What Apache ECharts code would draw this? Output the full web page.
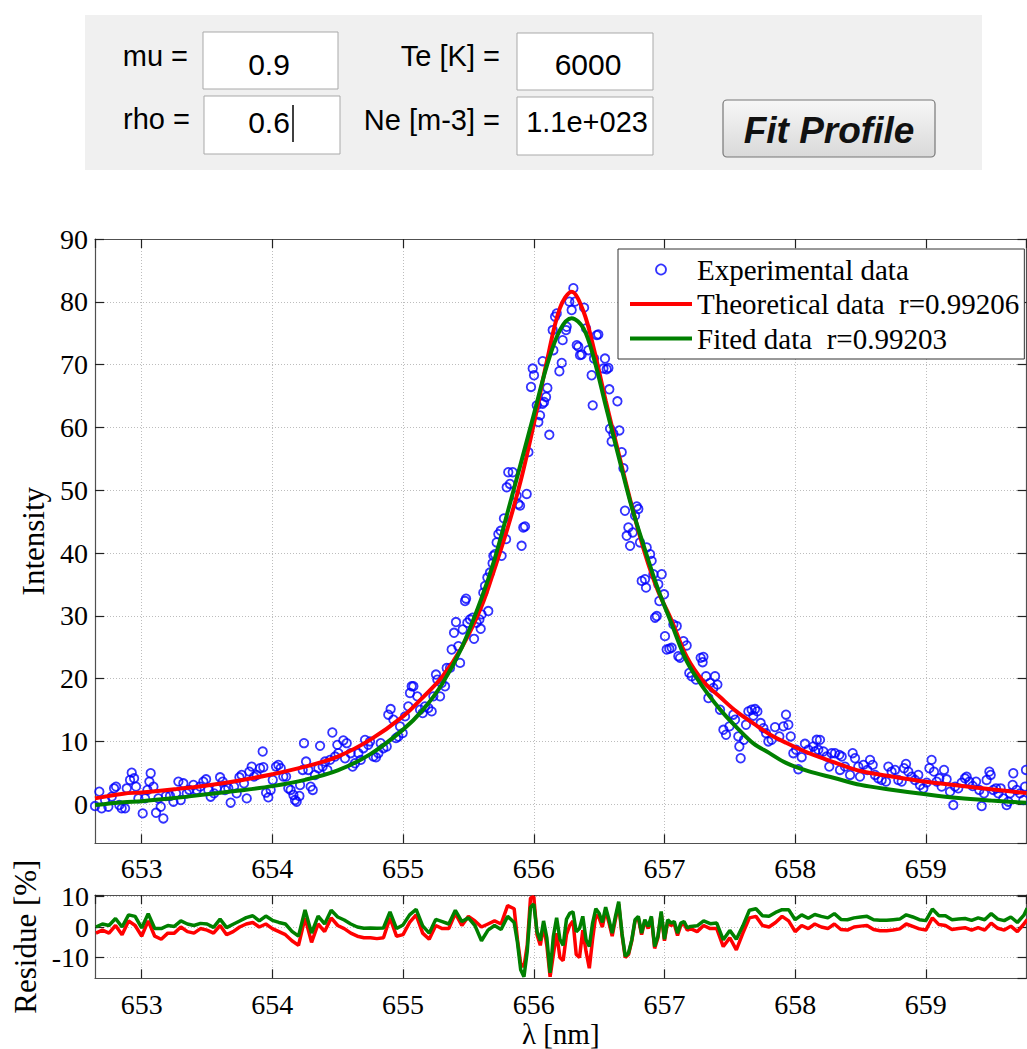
<!DOCTYPE html>
<html>
<head>
<meta charset="utf-8">
<script src="https://cdn.jsdelivr.net/npm/echarts@6/dist/echarts.min.js"></script>
<style>
  html, body { margin: 0; padding: 0; background: #fff; }
  #chart { width: 1027px; height: 1049px; }
</style>
</head>
<body>
<div id="chart"></div>
<script>
// experimental points [lambda nm, intensity]
const expPoints = [
  [652.643,-0.27],[652.676,2.02],[652.694,-0.64],[652.720,0.69],[652.745,-0.38],[652.771,1.22],[652.789,2.55],[652.804,2.82],
  [652.829,-0.11],[652.847,-0.64],[652.873,-0.64],[652.886,2.55],[652.911,3.88],[652.924,5.05],[652.942,4.15],[652.957,2.82],
  [652.975,0.95],[653.008,-1.44],[653.026,0.95],[653.044,2.29],[653.059,3.62],[653.069,4.95],[653.090,2.82],[653.110,-1.34],
  [653.128,0.95],[653.146,-0.38],[653.166,-2.24],[653.186,1.33],[653.217,1.33],[653.243,0.42],[653.263,1.75],[653.281,3.62],
  [653.299,0.69],[653.319,3.35],[653.345,1.75],[653.365,2.29],[653.396,3.08],[653.421,2.29],[653.447,2.82],[653.472,3.62],
  [653.493,3.99],[653.510,2.29],[653.528,1.22],[653.554,1.75],[653.574,2.55],[653.600,4.31],[653.620,3.62],[653.638,2.29],
  [653.663,2.55],[653.681,0.26],[653.707,2.82],[653.727,1.75],[653.748,4.31],[653.765,4.68],[653.783,3.35],[653.804,0.95],
  [653.824,5.21],[653.842,6.01],[653.860,4.42],[653.880,4.68],[653.906,5.75],[653.926,8.41],[653.931,5.91],[653.952,1.86],
  [653.969,1.11],[653.987,2.29],[654.003,3.88],[654.028,6.01],[654.046,6.28],[654.064,5.75],[654.084,4.42],[654.105,4.42],
  [654.122,2.55],[654.140,2.29],[654.161,1.49],[654.173,0.69],[654.186,0.42],[654.207,1.33],[654.212,3.08],[654.232,5.48],
  [654.242,9.74],[654.258,6.81],[654.275,5.48],[654.293,2.82],[654.309,2.29],[654.326,4.68],[654.352,5.75],[654.365,9.31],
  [654.385,6.01],[654.403,6.81],[654.421,5.48],[654.441,7.08],[654.459,11.44],[654.480,7.61],[654.497,9.47],[654.505,8.14],
  [654.543,10.17],[654.556,7.34],[654.569,9.74],[654.599,8.14],[654.614,6.01],[654.632,6.54],[654.658,8.14],[654.676,7.08],
  [654.696,8.94],[654.709,10.27],[654.734,9.47],[654.747,10.01],[654.773,7.61],[654.793,7.50],[654.811,8.14],[654.829,9.74],
  [654.849,8.94],[654.875,9.21],[654.887,14.27],[654.905,15.17],[654.926,13.47],[654.946,10.54],[654.964,10.80],[654.977,12.40],
  [654.997,11.34],[655.015,14.00],[655.040,15.60],[655.053,17.73],[655.066,18.79],[655.079,18.79],[655.109,17.19],[655.130,15.06],
  [655.150,14.53],[655.168,15.60],[655.193,15.33],[655.219,14.80],[655.232,17.19],[655.252,20.66],[655.262,19.86],[655.283,17.19],
  [655.295,19.32],[655.321,18.79],[655.334,21.72],[655.359,21.72],[655.372,24.65],[655.390,27.31],[655.405,29.02],[655.423,25.18],
  [655.436,22.52],[655.456,27.84],[655.474,32.37],[655.482,32.74],[655.492,28.91],[655.512,29.44],[655.533,29.71],[655.543,26.35],
  [655.563,28.91],[655.584,29.44],[655.594,27.95],[655.601,30.24],[655.614,33.70],[655.627,34.77],[655.645,36.10],[655.652,30.77],
  [655.665,36.90],[655.685,38.39],[655.691,39.56],[655.703,39.82],[655.716,41.69],[655.729,43.02],[655.747,43.55],[655.754,39.56],
  [655.772,45.52],[655.788,42.22],[655.793,50.47],[655.805,52.87],[655.818,51.01],[655.839,52.87],[655.869,49.14],[655.882,47.81],
  [655.895,47.55],[655.907,41.16],[655.920,44.08],[655.933,44.24],[655.946,49.41],[655.959,56.07],
  [655.979,66.45],[655.992,69.38],[656.002,68.31],[656.023,63.52],[656.035,60.86],[656.048,61.92],[656.068,63.78],[656.079,64.05],
  [656.094,64.85],[656.104,66.29],[656.119,58.83],[656.068,70.55],[656.150,72.30],[656.145,75.50],[656.163,77.63],[656.176,78.16],
  [656.196,68.95],[656.214,70.28],[656.221,73.90],[656.247,75.50],[656.252,76.03],[656.272,80.03],[656.290,78.69],[656.303,82.16],
  [656.316,80.03],[656.329,73.10],[656.341,72.84],[656.354,71.51],[656.367,71.61],[656.385,79.07],[656.400,75.77],[656.418,72.30],
  [656.443,68.31],[656.451,63.52],[656.461,70.97],[656.482,74.70],[656.494,74.81],[656.533,69.38],[656.545,70.97],[656.558,69.27],
  [656.571,69.48],[656.578,66.07],[656.584,59.79],[656.596,57.77],[656.609,58.99],[656.640,64.16],[656.655,59.52],[656.673,56.06],
  [656.686,53.51],[656.698,46.74],[656.711,42.75],[656.724,44.08],[656.737,41.15],[656.757,43.28],[656.775,45.95],[656.788,47.44],
  [656.800,47.01],[656.813,41.69],[656.864,40.89],
  [656.890,39.83],[656.902,38.76],[656.915,36.63],[656.979,36.63],[656.826,35.57],[656.851,35.84],[656.859,34.50],[656.953,35.04],
  [656.961,32.37],[656.997,33.44],[656.928,29.71],[656.941,29.98],[657.004,26.78],[657.017,24.65],[657.037,24.76],[657.055,24.92],
  [657.068,28.65],[657.094,28.38],[657.106,23.59],[657.119,23.32],[657.145,25.98],[657.170,25.29],[657.190,20.93],[657.208,20.39],
  [657.241,19.86],[657.277,23.32],[657.292,22.63],[657.298,23.48],[657.318,20.39],[657.336,16.93],[657.349,19.33],[657.387,20.39],
  [657.405,19.06],[657.374,18.53],[657.425,15.07],[657.451,11.87],[657.471,11.08],[657.497,12.41],[657.527,14.27],[657.540,13.47],
  [657.565,10.81],[657.573,9.21],[657.583,7.34],[657.609,10.28],[657.624,12.67],[657.642,14.80],[657.667,15.07],[657.693,15.17],
  [657.711,14.80],[657.680,14.11],[657.736,12.94],[657.757,12.14],[657.777,11.34],[657.795,10.01],[657.820,10.28],[657.846,12.30],
  [657.879,10.81],[657.910,12.41],[657.930,14.27],[657.948,12.67],[657.966,10.81],[657.986,8.14],[658.007,8.68],[658.024,5.59],
  [658.050,7.51],[658.075,9.64],[658.101,8.68],[658.139,9.21],[658.165,10.28],
  [658.190,10.27],[658.177,8.68],[658.152,8.41],[658.216,8.41],[658.241,7.61],[658.261,6.01],[658.279,8.14],[658.305,8.14],
  [658.338,7.88],[658.356,7.61],[658.343,5.48],[658.381,6.01],[658.420,4.68],[658.440,8.14],[658.458,7.34],[658.483,6.01],
  [658.496,4.42],[658.522,6.28],[658.552,5.48],[658.573,7.08],[658.593,6.28],[658.611,4.68],[658.636,4.15],[658.662,3.88],
  [658.695,3.62],[658.713,6.01],[658.738,5.21],[658.764,5.48],[658.789,3.88],[658.815,3.62],[658.833,5.75],[658.848,6.44],
  [658.866,5.21],[658.891,4.42],[658.917,3.88],[658.942,4.68],[658.955,3.08],[658.981,2.55],[659.006,3.46],[659.027,5.75],
  [659.044,7.08],[659.062,5.21],[659.083,3.62],[659.103,4.15],[659.121,2.82],[659.139,5.48],[659.159,3.99],[659.185,2.02],
  [659.210,-0.11],[659.223,2.82],[659.248,2.55],[659.274,3.46],[659.299,4.15],[659.312,4.42],[659.333,3.62],[659.358,2.92],
  [659.384,3.62],[659.409,2.29],[659.427,-0.27],[659.445,1.75],[659.465,3.88],[659.486,5.21],[659.496,4.68],[659.516,2.29],
  [659.537,2.55],[659.554,1.75],[659.572,2.55],[659.593,0.95],[659.618,-0.11],[659.631,0.42],[659.644,1.75],[659.669,4.95],
  [659.664,3.08],[659.695,2.29],[659.720,1.75],[659.746,0.69],[659.766,5.48],[659.759,2.82]
];

// model curves
const curveLambda = [
  652.643, 652.86, 653.0, 653.25, 653.5, 653.75, 654.0, 654.25, 654.5, 654.75,
  655.0, 655.15, 655.3, 655.45, 655.6, 655.7, 655.8, 655.9, 656.0, 656.1,
  656.2, 656.29, 656.38, 656.46, 656.55, 656.65, 656.75, 656.85, 656.95, 657.05,
  657.17, 657.3, 657.43, 657.55, 657.68, 657.8, 657.93, 658.1, 658.3, 658.5,
  658.75, 659.0, 659.25, 659.5, 659.77
];
const theoCurve = [
  0.95, 1.7, 1.9, 2.4, 3.0, 3.8, 4.8, 6.0, 7.6, 10.3,
  14.0, 17.0, 20.3, 25.0, 31.5, 37.5, 44.0, 51.5, 60.5, 70.5,
  79.0, 81.6, 78.5, 72.5, 64.3, 55.8, 47.5, 40.0, 34.0, 29.5,
  23.5, 19.5, 17.0, 14.8, 12.9, 11.2, 9.8, 8.2, 6.7, 5.3,
  4.4, 3.6, 3.0, 2.4, 1.8
];
const fitCurve = [
  -0.1, 0.35, 0.5, 1.0, 1.6, 2.2, 2.9, 3.9, 5.4, 8.0,
  11.9, 15.0, 19.2, 25.0, 32.8, 39.0, 46.5, 54.2, 62.0, 69.8,
  75.5, 77.4, 75.8, 71.0, 63.5, 55.3, 47.3, 40.6, 34.3, 29.0,
  22.8, 18.5, 15.0, 12.3, 9.7, 8.2, 6.6, 5.3, 4.2, 3.1,
  2.3, 1.6, 1.0, 0.6, 0.25
];

// residues [%]
const residLambdaA = [
  652.65, 652.70, 652.75, 652.80, 652.85, 652.90, 652.95, 653.00,
  653.05, 653.10, 653.15, 653.20, 653.25, 653.30, 653.35, 653.40,
  653.45, 653.50, 653.55, 653.60, 653.65, 653.70, 653.75, 653.80,
  653.85, 653.90, 653.95, 654.00, 654.05, 654.10, 654.15, 654.20,
  654.25, 654.30, 654.35, 654.40, 654.45, 654.50, 654.55, 654.60,
  654.65, 654.70, 654.75, 654.80, 654.85, 654.90, 654.95, 655.00,
  655.05, 655.10, 655.15, 655.20, 655.25, 655.30, 655.35, 655.40,
  655.45, 655.50, 655.55, 655.60, 655.65, 655.70, 655.75, 655.80
];
const residTheoA = [
  -2.0, -1.0, -2.0, 0.5, -2.5, 2.0, 0.5, -3.0,
  2.0, -3.0, -4.0, -2.0, -2.0, 0.0, -1.5, -2.0,
  -0.5, -1.0, -2.0, 0.5, -2.5, -1.5, 0.0, 1.0,
  1.5, 0.0, 1.0, -0.5, -1.5, -2.5, -4.5, -6.0,
  3.0, -5.0, 1.0, -1.5, 3.0, 0.5, -0.5, -2.0,
  -3.0, -3.5, -3.5, -3.8, -3.5, 3.0, -3.0, -2.5,
  1.5, 4.0, -2.0, -4.0, 0.5, -0.5, -0.5, 4.5,
  0.5, 3.5, 2.0, 0.0, 1.0, 2.0, 1.0, 7.0
];
const residFitA = [
  0.0, 1.0, 0.5, 2.8, 0.0, 4.0, 3.5, -0.3,
  4.4, -0.5, -0.5, 0.5, 0.2, 2.0, 1.0, 0.5,
  1.2, 1.0, -0.1, 2.6, -0.2, 0.9, 2.0, 3.1,
  3.7, 2.0, 3.6, 2.2, 1.5, 1.0, -1.4, -3.0,
  5.6, -2.0, 3.6, 1.0, 5.5, 3.3, 2.3, 1.0,
  0.0, -0.4, -0.3, -0.4, -0.3, 5.0, -0.5, 0.7,
  4.0, 5.8, 0.4, -2.0, 2.5, 1.8, 1.0, 5.5,
  1.8, 3.0, 0.5, -4.5, -1.0, 0.5, -0.8, 3.5
];
const residLambdaB = [
  655.850, 655.875, 655.900, 655.925, 655.950,
  655.975, 656.000, 656.025, 656.050, 656.075,
  656.100, 656.125, 656.150, 656.175, 656.200,
  656.225, 656.250, 656.275, 656.300, 656.325,
  656.350, 656.375, 656.400, 656.425, 656.450,
  656.475, 656.500, 656.525, 656.550, 656.575,
  656.600, 656.625, 656.650, 656.675, 656.700,
  656.725, 656.750, 656.775, 656.800, 656.825,
  656.850, 656.875, 656.900, 656.925, 656.950,
  656.975, 657.000, 657.025, 657.050, 657.075,
  657.100, 657.125, 657.150, 657.175, 657.200
];
const residTheoB = [
  6.0, -4.0, -12.0, -13.0, -6.0,
  9.5, 10.0, -2.5, -6.0, 0.5,
  -6.0, -16.3, -9.0, -2.0, -10.0,
  -11.0, -2.5, 0.5, 2.0, -9.0,
  -10.0, -1.0, -8.0, -13.5, -4.0,
  4.0, 3.0, 0.0, 5.5, 1.5,
  -3.0, 2.5, 7.5, -2.5, -10.0,
  -9.0, -4.5, 2.0, 3.0, -2.5,
  2.0, -0.5, 3.0, -7.0, -3.5,
  4.5, -4.5, 1.8, 0.5, 1.0,
  -2.8, 0.5, 1.0, -1.0, -0.5
];
const residFitB = [
  1.5, -5.0, -14.0, -16.3, -8.0,
  6.5, 7.5, -1.5, -4.5, 2.0,
  -3.5, -15.0, -3.0, 3.0, -4.0,
  -6.0, 2.5, 4.5, 5.0, -1.5,
  -0.5, 3.5, -4.2, -6.4, 1.3,
  6.0, 4.5, 1.5, 6.5, 2.5,
  -2.0, 3.5, 8.3, -2.0, -9.6,
  -8.5, -4.2, 2.4, 3.5, -2.0,
  2.4, 0.2, 3.5, -6.4, -3.0,
  5.1, -4.0, 2.4, 1.3, 1.8,
  -2.0, 1.3, 1.8, -0.3, 0.2
];
const residLambdaC = [
  657.25, 657.30, 657.35, 657.40, 657.45, 657.50, 657.55, 657.60,
  657.65, 657.70, 657.75, 657.80, 657.85, 657.90, 657.95, 658.00,
  658.05, 658.10, 658.15, 658.20, 658.25, 658.30, 658.35, 658.40,
  658.45, 658.50, 658.55, 658.60, 658.65, 658.70, 658.75, 658.80,
  658.85, 658.90, 658.95, 659.00, 659.05, 659.10, 659.15, 659.20,
  659.25, 659.30, 659.35, 659.40, 659.45, 659.50, 659.55, 659.60,
  659.65, 659.70, 659.75, 659.775
];
const residTheoC = [
  -1.5, 0.5, -0.5, -0.5, -6.4, -3.5, -7.5, -2.0,
  3.0, 3.5, 0.5, 0.0, 1.5, 3.5, 2.0, -1.5,
  0.5, -0.5, 1.0, 0.0, -0.5, 1.0, -0.8, -1.0,
  0.0, 0.3, 0.5, -0.8, -1.2, -1.2, -1.0, -0.6,
  1.0, 0.2, -0.6, -1.0, 3.0, 0.8, 0.5, -0.8,
  -0.5, -0.2, -1.0, -0.2, -1.0, 1.3, -0.4, -1.0,
  0.3, -1.5, 1.0, 2.5
];
const residFitC = [
  0.4, 2.0, 1.1, 1.3, -4.2, -1.1, -4.0, 0.4,
  5.5, 6.0, 3.7, 3.5, 4.8, 5.7, 5.7, 2.4,
  4.0, 2.9, 4.1, 3.5, 3.0, 4.4, 2.5, 2.4,
  3.0, 3.3, 3.5, 2.4, 2.2, 2.2, 2.4, 2.6,
  4.0, 3.3, 2.4, 2.1, 5.9, 3.7, 3.7, 2.4,
  2.6, 2.8, 2.2, 3.0, 2.4, 4.4, 2.6, 2.1,
  3.3, 1.5, 3.9, 6.2
];

const serif = '"Liberation Serif", "Times New Roman", serif';
const sans = '"Liberation Sans", Arial, sans-serif';
const LMIN = 652.643, LMAX = 659.77;

const residLambda = residLambdaA.concat(residLambdaB, residLambdaC);
const residTheo = residTheoA.concat(residTheoB, residTheoC);
const residFit = residFitA.concat(residFitB, residFitC);

function pairs(xs, ys) {
  return xs.map(function (x, i) { return [x, ys[i]]; });
}
function intLabel(v) {
  return Math.abs(v - Math.round(v)) < 1e-6 ? String(Math.round(v)) : '';
}

const frameLine = { show: true, onZero: false, lineStyle: { color: '#505050', width: 1.2 } };
const innerTick = { show: true, inside: true, length: 9, lineStyle: { color: '#222', width: 1.2 } };
const gridLine = { show: true, lineStyle: { type: [1, 2], color: '#bdbdbd', width: 1 } };
const tickFont = { color: '#000', fontFamily: serif, fontSize: 28 };
const nameFont = { color: '#000', fontFamily: serif, fontSize: 31 };

function xPair(gridIndex, margin, name) {
  const bottom = {
    type: 'value', gridIndex: gridIndex, min: LMIN, max: LMAX, splitNumber: 7,
    position: 'bottom', axisLine: frameLine, axisTick: innerTick, splitLine: gridLine,
    axisLabel: Object.assign({ margin: margin, showMinLabel: false, showMaxLabel: false, formatter: intLabel }, tickFont)
  };
  if (name) {
    bottom.name = name;
    bottom.nameLocation = 'middle';
    bottom.nameGap = 33;
    bottom.nameTextStyle = { color: '#000', fontFamily: serif, fontSize: 29, lineHeight: 29 };
  }
  const top = {
    type: 'value', gridIndex: gridIndex, min: LMIN, max: LMAX, splitNumber: 7,
    position: 'top', axisLine: frameLine, axisTick: innerTick,
    axisLabel: { show: false }, splitLine: { show: false }
  };
  return [bottom, top];
}

function yPair(gridIndex, min, max, split, margin, name, gap) {
  const left = {
    type: 'value', gridIndex: gridIndex, min: min, max: max, splitNumber: split,
    position: 'left', axisLine: frameLine, axisTick: innerTick, splitLine: gridLine,
    axisLabel: Object.assign({ margin: margin, showMinLabel: false, formatter: intLabel }, tickFont),
    name: name, nameLocation: 'middle', nameGap: gap, nameTextStyle: nameFont
  };
  const right = {
    type: 'value', gridIndex: gridIndex, min: min, max: max, splitNumber: split,
    position: 'right', axisLine: frameLine, axisTick: innerTick,
    axisLabel: { show: false }, splitLine: { show: false }
  };
  return [left, right];
}

const boxStyle = { fill: '#fff', stroke: '#a9a9a9', lineWidth: 1 };
function guiText(text, x, y, align, size, extra) {
  return {
    type: 'text', x: x, y: y, silent: true,
    style: Object.assign({
      text: text, fill: '#000', fontFamily: sans, fontSize: size,
      align: align, verticalAlign: 'middle'
    }, extra || {})
  };
}

// flat bar used as the legend mark of the two lines
const lineIcon = 'path://M0,0H62V4H0Z';

const myChart = echarts.init(document.getElementById('chart'), null, { renderer: 'svg' });
const option = {
  animation: false,
  backgroundColor: '#fff',
  grid: [
    { left: 95, top: 239, width: 931.5, height: 604.3, containLabel: false, outerBoundsMode: 'none' },
    { left: 95, top: 895, width: 931.5, height: 83.3, containLabel: false, outerBoundsMode: 'none' }
  ],
  xAxis: xPair(0, 11, null).concat(xPair(1, 12, 'λ [nm]')),
  yAxis: yPair(0, -6.2, 90, 10, 7, 'Intensity', 42).concat(yPair(1, -16.8, 10.5, 3, 6, 'Residue [%]', 51)),
  legend: {
    orient: 'vertical',
    left: 618, top: 249,
    padding: [6, 5, 6, 12],
    itemGap: 5.5,
    itemWidth: 62, itemHeight: 10,
    backgroundColor: '#fff',
    borderColor: '#333', borderWidth: 1,
    selectedMode: false,
    textStyle: { color: '#000', fontFamily: serif, fontSize: 29 },
    data: [
      { name: 'Experimental data', icon: 'circle',
        itemStyle: { color: 'rgba(0,0,0,0)', borderColor: '#0000ff', borderWidth: 1.8 } },
      { name: 'Theoretical data  r=0.99206', icon: lineIcon, itemStyle: { color: '#ff0000', borderWidth: 0 } },
      { name: 'Fited data  r=0.99203', icon: lineIcon, itemStyle: { color: '#008000', borderWidth: 0 } }
    ]
  },
  series: [
    {
      name: 'Experimental data', type: 'scatter', xAxisIndex: 0, yAxisIndex: 0,
      symbol: 'circle', symbolSize: 8.5, z: 2,
      itemStyle: { color: 'rgba(0,0,0,0)', borderColor: '#0000ff', borderWidth: 1.8 },
      data: expPoints
    },
    {
      name: 'Theoretical data  r=0.99206', type: 'line', xAxisIndex: 0, yAxisIndex: 0,
      symbol: 'none', smooth: 0.35, z: 3,
      lineStyle: { color: '#ff0000', width: 4 }, itemStyle: { color: '#ff0000' },
      data: pairs(curveLambda, theoCurve)
    },
    {
      name: 'Fited data  r=0.99203', type: 'line', xAxisIndex: 0, yAxisIndex: 0,
      symbol: 'none', smooth: 0.35, z: 4,
      lineStyle: { color: '#008000', width: 4 }, itemStyle: { color: '#008000' },
      data: pairs(curveLambda, fitCurve)
    },
    {
      name: 'Residue theoretical', type: 'line', xAxisIndex: 2, yAxisIndex: 2,
      symbol: 'none', z: 3,
      lineStyle: { color: '#ff0000', width: 3.5 },
      data: pairs(residLambda, residTheo)
    },
    {
      name: 'Residue fited', type: 'line', xAxisIndex: 2, yAxisIndex: 2,
      symbol: 'none', z: 4,
      lineStyle: { color: '#008000', width: 3.5 },
      data: pairs(residLambda, residFit)
    }
  ],
  graphic: [
    { type: 'rect', silent: true, shape: { x: 85, y: 15, width: 897, height: 155 }, style: { fill: '#f0f0f0' } },
    { type: 'rect', silent: true, shape: { x: 203, y: 32, width: 135, height: 57 }, style: boxStyle },
    { type: 'rect', silent: true, shape: { x: 517, y: 33, width: 136, height: 57 }, style: boxStyle },
    { type: 'rect', silent: true, shape: { x: 204, y: 96, width: 136, height: 58 }, style: boxStyle },
    { type: 'rect', silent: true, shape: { x: 517, y: 97, width: 136, height: 58 }, style: boxStyle },
    {
      type: 'rect', silent: true, shape: { x: 723, y: 100, width: 212, height: 57, r: 4 },
      style: {
        fill: new echarts.graphic.LinearGradient(0, 0, 0, 1, [
          { offset: 0, color: '#f7f7f7' }, { offset: 1, color: '#d9d9d9' }
        ]),
        stroke: '#777', lineWidth: 1.2
      }
    },
    guiText('mu =', 188, 56, 'right', 29),
    guiText('Te [K] =', 500, 56, 'right', 29),
    guiText('rho =', 190, 119, 'right', 29),
    guiText('Ne [m-3] =', 500, 120, 'right', 29),
    guiText('0.9', 269, 64, 'center', 30),
    guiText('6000', 588, 64, 'center', 30),
    guiText('0.6', 269, 122, 'center', 30),
    guiText('1.1e+023', 587, 122, 'center', 29),
    { type: 'line', silent: true, shape: { x1: 293, y1: 105, x2: 293, y2: 142 }, style: { stroke: '#000', lineWidth: 1.5 } },
    guiText('Fit Profile', 829, 130, 'center', 37, { fontWeight: 'bold', fontStyle: 'italic', fill: '#111' })
  ]
};
myChart.setOption(option);
window.addEventListener('resize', function () {
  myChart.resize();
});
</script>
</body>
</html>
